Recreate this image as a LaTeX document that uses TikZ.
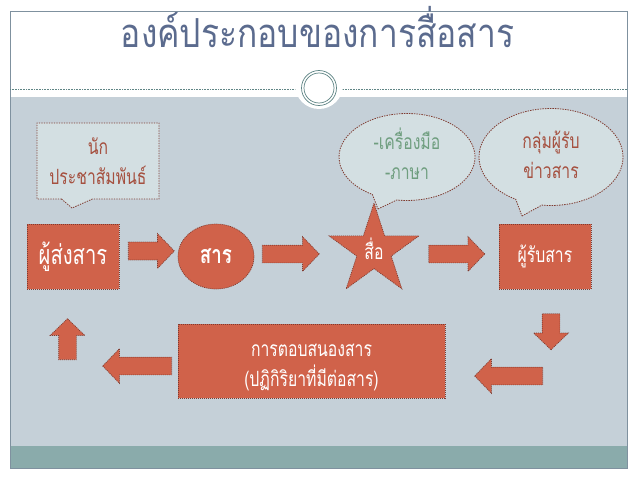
\documentclass[tikz,border=0pt]{standalone}
\usepackage{fontspec}
\newfontfamily\thaifont[Script=Thai,FakeStretch=0.75]{Loma}
\newfontfamily\titlefont[Script=Thai,FakeStretch=0.84]{Loma}
\usetikzlibrary{shapes.geometric,shapes.arrows,shapes.callouts}
\definecolor{bodygray}{HTML}{C5D0D8}
\definecolor{bandteal}{HTML}{8AABAB}
\definecolor{framegray}{HTML}{7F919F}
\definecolor{ringteal}{HTML}{5F8585}
\definecolor{titleblue}{HTML}{5B6B8E}
\definecolor{blockred}{HTML}{D0624A}
\definecolor{edgered}{HTML}{7F3B30}
\definecolor{bubblefill}{HTML}{D3DFE2}
\definecolor{bubbletext}{HTML}{A5503F}
\definecolor{bubblegreen}{HTML}{6F9E7F}
\tikzset{
  block/.style={draw=edgered,dash pattern=on 1pt off 1pt,line width=0.7pt,fill=blockred,text=white,inner sep=0pt,outer sep=0pt,align=center,font=\thaifont\fontsize{21}{30}\selectfont},
  flowarrow/.style={single arrow,draw=edgered,dash pattern=on 1pt off 1pt,line width=0.7pt,fill=blockred,inner xsep=0pt,inner ysep=8.5pt,outer sep=0pt,single arrow tip angle=92,single arrow head extend=8.5pt},
  bubble/.style={draw=edgered,dash pattern=on 1.4pt off 1.1pt,line width=0.8pt,fill=bubblefill,text=bubbletext,inner sep=0pt,outer sep=0pt,align=center,font=\thaifont\fontsize{21}{30}\selectfont}
}
\begin{document}
\begin{tikzpicture}[x=1pt,y=-1pt]
\useasboundingbox (0,0) rectangle (638,479);
% slide
\fill [bodygray] (10,97) rectangle (627,446);
\fill [bandteal] (10,446) rectangle (627,468);
\draw [framegray,line width=0.7pt] (10,11) rectangle (627,468);
\coordinate (l0) at (10,89);
\coordinate (l1) at (298,89);
\coordinate (l2) at (340,89);
\coordinate (l3) at (627,89);
\draw [ringteal,densely dotted,line width=0.6pt] (l0) -- (l1);
\draw [ringteal,densely dotted,line width=0.6pt] (l2) -- (l3);
\node [circle,fill=white,minimum size=48pt,inner sep=0pt] (ring0) at (319,85) {};
\node [circle,draw=ringteal,line width=0.7pt,minimum size=35pt,inner sep=0pt] (ring1) at (319,88) {};
\node [circle,draw=ringteal,line width=0.7pt,minimum size=30pt,inner sep=0pt] (ring2) at (319,88) {};
\node [anchor=base,text=titleblue,font=\titlefont\fontsize{40}{44}\selectfont,inner sep=0pt] (title) at (317.5,47) {องค์ประกอบของการสื่อสาร};
% bubbles
\coordinate (p1) at (72,208);
\coordinate (p2) at (378,209);
\coordinate (p3) at (522,216);
\node [bubble,rectangle callout,minimum width=122pt,minimum height=76pt,callout absolute pointer=(p1),callout pointer width=31pt] (pr) at (98,161) {นัก\\ประชาสัมพันธ์};
\node [bubble,ellipse callout,minimum width=136pt,minimum height=87pt,callout absolute pointer=(p2),callout pointer arc=22,text=bubblegreen] (tools) at (407,157) {-เครื่องมือ\\-ภาษา\rule[-6pt]{0pt}{6pt}};
\node [bubble,ellipse callout,minimum width=144pt,minimum height=97pt,callout absolute pointer=(p3),callout pointer arc=22] (group) at (551,157) {กลุ่มผู้รับ\\ข่าวสาร\rule[-4pt]{0pt}{4pt}};
% blocks
\node [block,rectangle,minimum width=92pt,minimum height=65pt,font=\thaifont\fontsize{27}{30}\selectfont] (sender) at (73,256.5) {ผู้ส่งสาร};
\node [block,ellipse,minimum width=76pt,minimum height=65pt,font=\thaifont\bfseries\fontsize{25}{30}\selectfont] (msg) at (216,256.5) {สาร};
\node [block,star,star points=5,star point ratio=2.618,minimum size=92pt] (media) at (374,250.5) {สื่อ\rule[-4pt]{0pt}{4pt}};
\node [block,rectangle,minimum width=92pt,minimum height=65pt] (receiver) at (545,256.5) {ผู้รับสาร};
\node [block,rectangle,minimum width=267pt,minimum height=74pt] (reply) at (311.5,361) {\rule{0pt}{24.5pt}การตอบสนองสาร\\(ปฏิกิริยาที่มีต่อสาร)};
% arrows
\node [flowarrow,minimum height=46pt,minimum width=35pt] (a1) at (147,251) {};
\node [flowarrow,minimum height=57pt,minimum width=32pt] (a2) at (286.5,254) {};
\node [flowarrow,minimum height=56pt,minimum width=32pt] (a3) at (452.5,254) {};
\node [flowarrow,minimum height=36pt,minimum width=32pt,rotate=-90] (a4) at (551,327.5) {};
\node [flowarrow,minimum height=68pt,minimum width=34pt,rotate=180] (a5) at (513,376) {};
\node [flowarrow,minimum height=69pt,minimum width=34pt,rotate=180] (a6) at (141.5,366) {};
\node [flowarrow,minimum height=41pt,minimum width=31pt,rotate=90] (a7) at (67.5,343.5) {};
\end{tikzpicture}
\end{document}
